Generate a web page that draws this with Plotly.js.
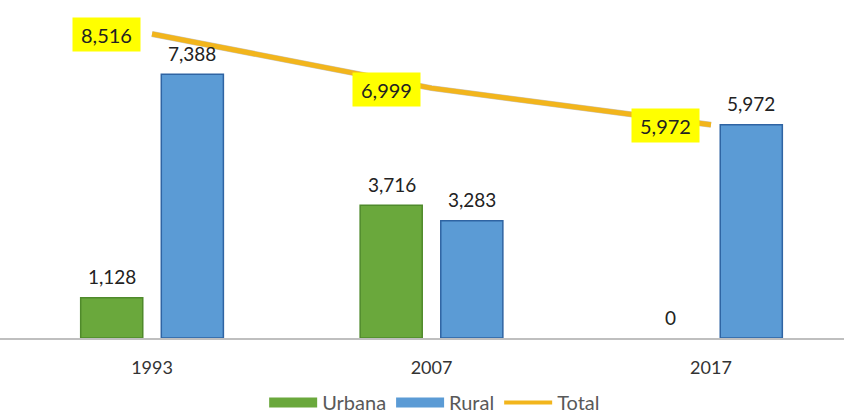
<!DOCTYPE html>
<html>
<head>
<meta charset="utf-8">
<script src="https://cdn.plot.ly/plotly-3.0.1.min.js"></script>
<style>html,body{margin:0;padding:0;background:#fff;}#chart{width:844px;height:417px;}#err{position:absolute;top:0;left:0;font:12px sans-serif;color:red;}</style>
</head>
<body>
<div id="chart"></div>
<div id="err"></div>
<script>
var years = ['1993', '2007', '2017'];
var urbana = [1128, 3716, 0];
var rural = [7388, 3283, 5972];
var total = [8516, 6999, 5972];
var seriesNames = ['Urbana', 'Rural', 'Total'];

var FONT = 'Lato, Open Sans, sans-serif';
var GREEN = '#6AA83C', GREEN_LINE = '#4F8A2B';
var BLUE = '#5B9BD5', BLUE_LINE = '#2F64A3';
var GOLD = '#F2B51C';

function fmt(v) { return String(v).replace(/\B(?=(\d{3})+(?!\d))/g, ','); }

try {
var traces = [
  {type: 'bar', name: seriesNames[0], x: years, y: urbana, showlegend: false,
   marker: {color: GREEN, line: {color: urbana.map(function (v) { return v > 0 ? GREEN_LINE : 'rgba(0,0,0,0)'; }), width: 1.5}}, hoverinfo: 'skip'},
  {type: 'bar', name: seriesNames[1], x: years, y: rural, showlegend: false,
   marker: {color: BLUE, line: {color: BLUE_LINE, width: 1.5}}, hoverinfo: 'skip'},
  {type: 'scatter', mode: 'lines', name: 'shadow', x: years, y: total, showlegend: false,
   line: {color: 'rgba(90,70,30,0.3)', width: 6}, hoverinfo: 'skip'},
  {type: 'scatter', mode: 'lines', name: seriesNames[2], x: years, y: total, showlegend: false,
   line: {color: GOLD, width: 5}, hoverinfo: 'skip'},
  {type: 'scatter', mode: 'lines', name: seriesNames[0], x: [null], y: [null],
   line: {color: GREEN, width: 11}},
  {type: 'scatter', mode: 'lines', name: seriesNames[1], x: [null], y: [null],
   line: {color: BLUE, width: 11}},
  {type: 'scatter', mode: 'lines', name: seriesNames[2], x: [null], y: [null],
   line: {color: GOLD, width: 4}}
];

var annotations = [];
for (var i = 0; i < years.length; i++) {
  annotations.push({xref: 'x', yref: 'y', x: i, y: urbana[i], text: fmt(urbana[i]), showarrow: false,
    xshift: -40, yshift: 21, yanchor: 'middle', font: {family: FONT, size: 19, color: '#222'}});
  annotations.push({xref: 'x', yref: 'y', x: i, y: rural[i], text: fmt(rural[i]), showarrow: false,
    xshift: 40, yshift: 21, yanchor: 'middle', font: {family: FONT, size: 19, color: '#222'}});
  annotations.push({xref: 'x', yref: 'y', x: i, y: total[i], text: fmt(total[i]), showarrow: false,
    xanchor: 'right', yanchor: 'middle', xshift: -11, yshift: -1,
    bgcolor: '#FFFF00', borderpad: 4, width: 59, height: 25,
    font: {family: FONT, size: 20, color: '#222'}});
}

var layout = {
  width: 844, height: 417,
  margin: {l: 0, r: 0, t: 0, b: 79},
  paper_bgcolor: '#fff', plot_bgcolor: '#fff',
  barmode: 'group', bargap: 0.423, bargroupgap: 0.23,
  xaxis: {type: 'category', range: [-0.544, 2.476], showline: true, linecolor: '#BFBFBF',
    linewidth: 2, showgrid: false, zeroline: false, ticks: '', ticklabelstandoff: 12,
    tickfont: {family: FONT, size: 18, color: '#333'}, fixedrange: true},
  yaxis: {range: [0, 9468], visible: false, showgrid: false, zeroline: false, fixedrange: true},
  showlegend: true,
  legend: {orientation: 'h', x: 0.515, xanchor: 'center', yref: 'container', y: 0.035,
    yanchor: 'middle', font: {family: FONT, size: 20, color: '#595959'},
    itemwidth: 48, traceorder: 'normal'},
  annotations: annotations
};

Plotly.newPlot('chart', traces, layout, {displayModeBar: false, staticPlot: true}).catch(function (e) {
  document.getElementById('err').textContent = 'ERR ' + e;
});
} catch (e) {
  document.getElementById('err').textContent = 'ERR ' + e;
}
</script>
</body>
</html>
